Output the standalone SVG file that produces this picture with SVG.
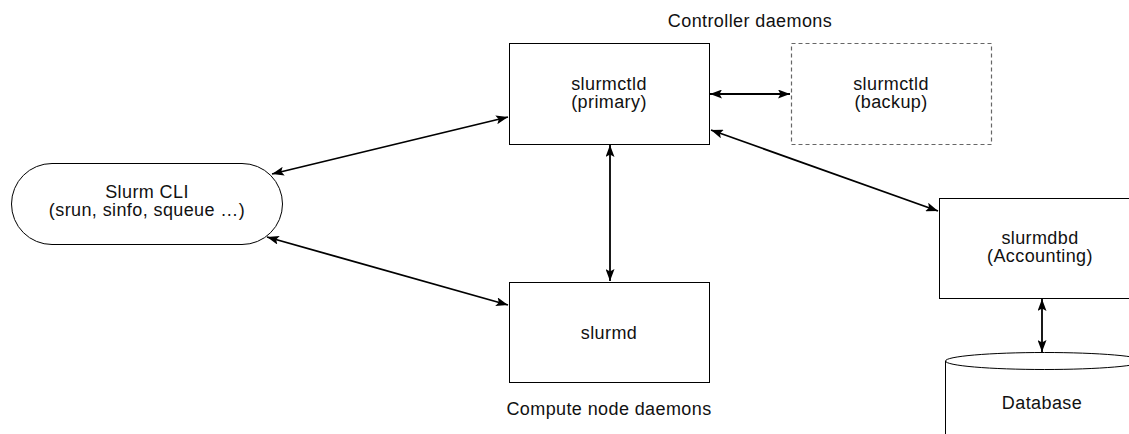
<svg xmlns="http://www.w3.org/2000/svg" width="1129" height="434" viewBox="0 0 1129 434">
<style>
.box{fill:#fff;stroke:#000;stroke-width:1}
.dash{fill:#fff;stroke:#666;stroke-width:1.2;stroke-dasharray:4 3}
.t{font-family:"Liberation Sans",Arial,sans-serif;font-size:18px;letter-spacing:0.4px;fill:#111;text-anchor:middle}
.c{fill:none;stroke:#000;stroke-width:1.8}
</style>
<defs>
<marker id="ah" viewBox="0 0 12 9" refX="12" refY="4.5" markerWidth="12" markerHeight="9" markerUnits="userSpaceOnUse" orient="auto-start-reverse">
<path d="M0,0 L12,4.5 L0,9 L2.5,4.5 z" fill="#000"/>
</marker>
</defs>
<rect width="1129" height="434" fill="#fff"/>
<text class="t" x="750" y="27">Controller daemons</text>
<text class="t" x="609" y="415">Compute node daemons</text>
<g id="primary">
<rect class="box" x="509.5" y="43.5" width="200" height="101"/>
<text class="t" x="609" y="90">slurmctld</text>
<text class="t" x="609" y="108">(primary)</text>
</g>
<g id="backup">
<rect class="dash" x="791.5" y="43.5" width="200" height="101"/>
<text class="t" x="891" y="90">slurmctld</text>
<text class="t" x="891" y="108">(backup)</text>
</g>
<g id="cli">
<rect class="box" x="11.5" y="163.5" width="271" height="81" rx="40.5" ry="40.5"/>
<text class="t" x="147" y="198">Slurm CLI</text>
<text class="t" x="147" y="216">(srun, sinfo, squeue …)</text>
</g>
<g id="slurmd">
<rect class="box" x="509.5" y="282.5" width="200" height="100"/>
<text class="t" x="609" y="339">slurmd</text>
</g>
<g id="slurmdbd">
<rect class="box" x="939.5" y="198.5" width="200" height="100"/>
<text class="t" x="1040" y="244">slurmdbd</text>
<text class="t" x="1040" y="262">(Accounting)</text>
</g>
<g id="database">
<path class="box" d="M945.5,440 L945.5,361 A99,8.5 0 0 1 1143.5,361 L1143.5,440"/>
<path fill="none" stroke="#000" stroke-width="1" d="M945.5,361 A99,8.5 0 0 0 1143.5,361"/>
<text class="t" x="1042" y="409">Database</text>
</g>
<g id="connectors">
<line class="c" x1="272" y1="174" x2="508" y2="117" marker-start="url(#ah)" marker-end="url(#ah)"/>
<line class="c" x1="267" y1="237" x2="508" y2="305" marker-start="url(#ah)" marker-end="url(#ah)"/>
<line class="c" x1="610" y1="145" x2="610" y2="281" marker-start="url(#ah)" marker-end="url(#ah)"/>
<line class="c" x1="710" y1="94" x2="790" y2="94" marker-start="url(#ah)" marker-end="url(#ah)"/>
<line class="c" x1="711" y1="130" x2="938" y2="211" marker-start="url(#ah)" marker-end="url(#ah)"/>
<line class="c" x1="1042" y1="299" x2="1042" y2="352" marker-start="url(#ah)" marker-end="url(#ah)"/>
</g>
</svg>
